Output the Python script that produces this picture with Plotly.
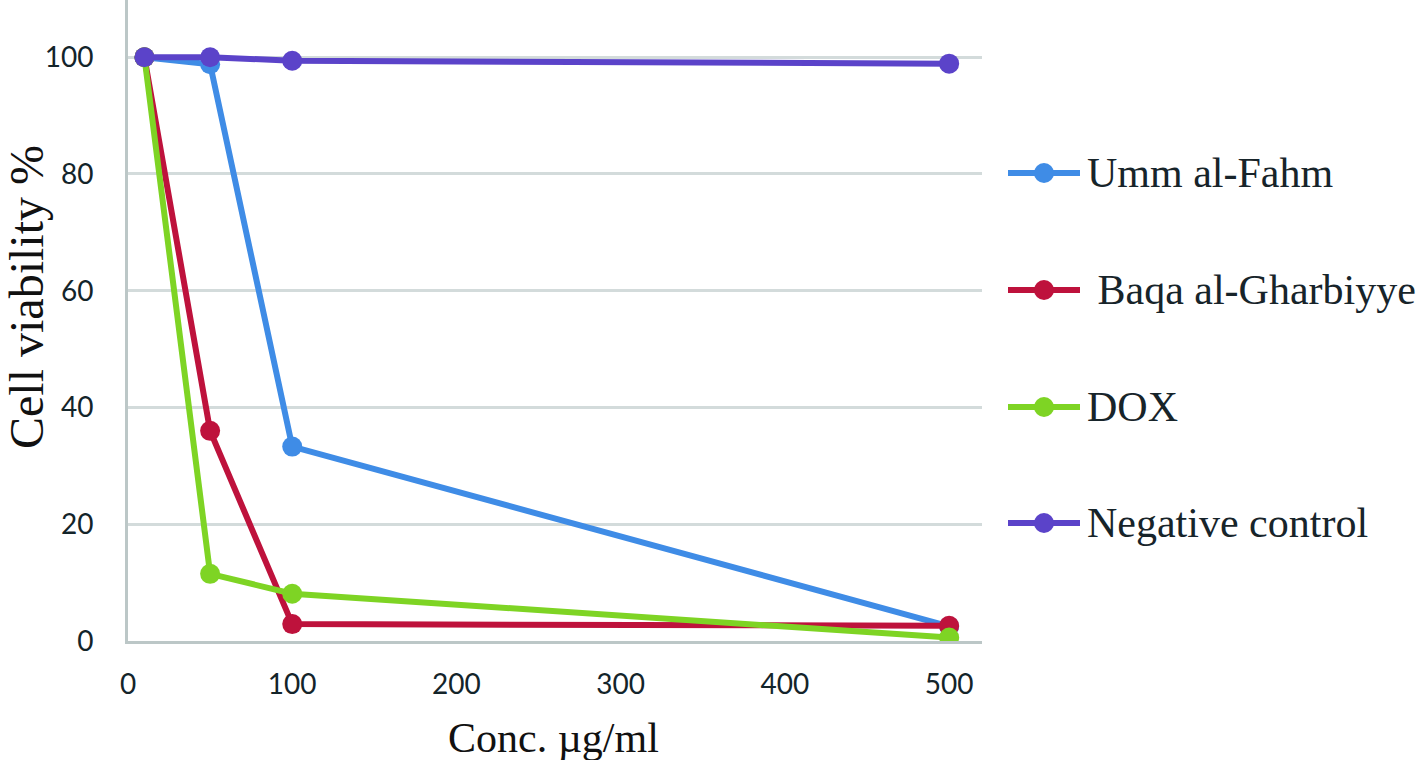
import plotly.graph_objects as go

# ---- data ----
conc = [10, 50, 100, 500]
series_names = ["Umm al-Fahm", "\u00a0Baqa al-Gharbiyye", "DOX", "Negative control"]
umm_al_fahm = [100, 98.8, 33.3, 2.5]
baqa_al_gharbiyye = [100, 36.0, 2.9, 2.6]
dox = [100, 11.5, 8.1, 0.6]
negative_control = [100, 100, 99.4, 98.9]
x_ticks = [0, 100, 200, 300, 400, 500]
y_ticks = [0, 20, 40, 60, 80, 100]

colors = ["#3F8CE6", "#BE123C", "#7ED424", "#5B43C9"]
values = [umm_al_fahm, baqa_al_gharbiyye, dox, negative_control]

W, H = 1418, 760
L, R, T, B = 128, 982, 0, 641  # plot area in pixels
PW, PH = R - L, B - T

def px(xp):
    return (xp - L) / PW

def py(yp):
    return 1 - (yp - T) / PH

fig = go.Figure()
for name, vals, col in zip(series_names, values, colors):
    fig.add_trace(go.Scatter(
        x=conc, y=vals, mode="lines+markers", name=name,
        line=dict(color=col, width=6),
        marker=dict(color=col, size=20),
        showlegend=False,
    ))

# manual legend
leg_y = [173, 290, 407, 523]
shapes = []
annotations = []
for name, col, yy in zip(series_names, colors, leg_y):
    shapes.append(dict(type="line", xref="paper", yref="paper",
                       x0=px(1008), x1=px(1080), y0=py(yy), y1=py(yy),
                       line=dict(color=col, width=6)))
    shapes.append(dict(type="circle", xref="paper", yref="paper",
                       x0=px(1034), x1=px(1054), y0=py(yy + 10), y1=py(yy - 10),
                       fillcolor=col, line=dict(color=col, width=0)))
    annotations.append(dict(text=name, xref="paper", yref="paper",
                            x=px(1085), y=py(yy), xanchor="left", yanchor="middle",
                            showarrow=False,
                            font=dict(family="Liberation Serif", size=42, color="#17242A")))

annotations.append(dict(text="Conc. \u00b5g/ml", xref="paper", yref="paper",
                        x=px(553), y=py(738), xanchor="center", yanchor="middle",
                        showarrow=False,
                        font=dict(family="Liberation Serif", size=42, color="#111111")))
annotations.append(dict(text="Cell viability %", xref="paper", yref="paper",
                        x=px(27), y=py(297), xanchor="center", yanchor="middle",
                        textangle=-90, showarrow=False,
                        font=dict(family="Liberation Serif", size=48, color="#111111")))

tick_font = dict(family="Lato", size=28, color="#13242A")
fig.update_layout(
    width=W, height=H,
    margin=dict(l=L, r=W - R, t=T, b=H - B, pad=0),
    paper_bgcolor="white", plot_bgcolor="white",
    showlegend=False,
    shapes=shapes, annotations=annotations,
    xaxis=dict(range=[0, 520], tickvals=x_ticks, showgrid=False, zeroline=False,
               showline=True, linecolor="#BCC7C7", linewidth=3,
               tickfont=tick_font, ticks="", ticklabelstandoff=16),
    yaxis=dict(range=[0, 109.8], tickvals=y_ticks, showgrid=True,
               gridcolor="#D3DBDB", gridwidth=3, zeroline=False,
               showline=True, linecolor="#BCC7C7", linewidth=3,
               tickfont=tick_font, ticks="", ticklabelstandoff=26),
)

fig.write_html("out.html", config={"displayModeBar": False},
               post_script="document.body.style.margin='0';document.body.style.overflow='hidden';")
